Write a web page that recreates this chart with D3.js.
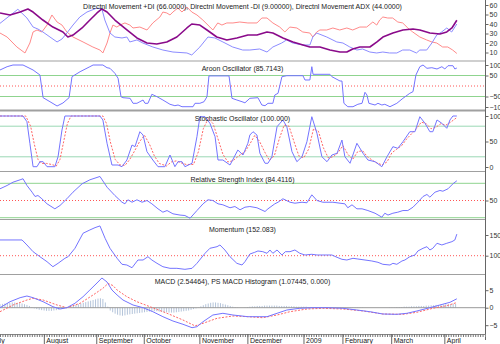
<!DOCTYPE html>
<html><head><meta charset="utf-8">
<script src="https://cdn.jsdelivr.net/npm/d3@7"></script>
<style>body{margin:0;background:#fff}svg{display:block}text{font-family:Arial,"Liberation Sans",sans-serif}</style>
</head><body><svg id="c" width="500" height="344"></svg>
<script>
// ---- data: [trading-day index, value] ----
const monthTicks = [["July",-4],["August",18.1],["September",39.5],["October",58.9],["November",81.6],["December",101.2],["2009",124.1],["February",140],["March",159.9],["April",181.6]];
const dmiPlus = [[0,40.7],[7.3,55.5],[11,46.3],[13.5,36.8],[15.5,34.7],[17.5,31.6],[20.4,26.3],[23.3,21.1],[25.3,24.2],[27.3,30.5],[29.8,38.9],[32.6,47.4],[35.5,52.6],[39.6,56.8],[41.6,55.8],[42.8,44.2],[44.9,30.5],[46.9,26.3],[49.8,25.3],[51.8,26.3],[53,21.1],[55.9,23.2],[58.3,20],[62.4,15.8],[66.5,12.6],[70.6,10.5],[76.3,9.5],[78.3,7.4],[81.6,15.8],[84.9,26.3],[87.7,25.3],[91,21.1],[95,15.8],[99.1,12.6],[102,12.6],[106,13.7],[109,10.5],[111.4,15.8],[115,20],[117,23.2],[119.5,20],[123.6,17.9],[126.5,17.9],[127.7,26.3],[129.3,30.5],[133.4,26.3],[137.5,21.1],[140,20],[142.8,15.8],[145.7,12.6],[148,13.7],[151,10.5],[153.8,9.5],[156.3,10.5],[159,9.5],[162,9.5],[164.4,12.6],[167.3,12.6],[170,9.5],[171.4,12.6],[174.2,12.6],[176.3,20],[178.3,28.4],[180.3,31.6],[182.4,35.8],[184.4,31.6],[186.5,40]];
const dmiMinus = [[0,30.5],[2.9,26.3],[6.9,15.8],[10.2,9.5],[12.2,20],[13.5,31.6],[15.1,33.7],[17.1,31.6],[19.2,38.9],[21.2,49.5],[23.3,42.1],[25.3,38.9],[27.3,31.6],[29.8,26.3],[33.9,21.1],[37.9,15.8],[40.8,12.6],[42,9.5],[43.7,20],[44.9,30.5],[46.1,38.9],[47.7,36.8],[49,38.9],[51,41.1],[53,38.9],[54.3,35.8],[57.1,36.8],[60,33.7],[62.4,41.1],[65.3,47.4],[66.5,52.6],[68.1,51.6],[69.4,49.5],[70.6,52.6],[72.6,56.8],[74.3,52.6],[76.3,57.9],[78.3,52.6],[80.4,49.5],[82.8,44.2],[85.7,36.8],[86.9,33.7],[88.9,41.1],[90.6,38.9],[92.6,41.1],[95.1,41.1],[97.9,42.1],[101.2,41.1],[104.9,41.1],[106.9,46.3],[109,46.3],[111.4,41.1],[114.2,36.8],[116.3,31.6],[118.3,36.8],[121.2,35.8],[123.6,31.6],[126.5,30.5],[127.7,26.3],[129.3,31.6],[130.6,33.7],[133.4,33.7],[135.9,35.8],[138.7,33.7],[141.6,35.8],[144,33.7],[146.9,36.8],[149.7,36.8],[152.2,42.1],[153.8,38.9],[155,44.2],[156.3,47.4],[158.3,46.3],[160.3,46.3],[162.4,42.1],[164.4,41.1],[166.5,35.8],[168.5,31.6],[171.4,26.3],[174.2,23.2],[176.3,21.1],[178.3,20],[180.7,15.8],[182.8,15.8],[184.8,12.6],[186.5,9]];
const dmiAdx = [[0,51.6],[4.1,49.5],[8.2,52.6],[11.4,55.8],[13.5,52.6],[17.5,44.2],[21.6,36.8],[25.7,31.6],[27.7,26.3],[29.8,28.4],[33.5,35.8],[36.7,44.2],[39.6,51.6],[41.6,55.8],[43.7,52.6],[46.9,44.2],[51.8,33.7],[55.9,25.3],[60,20],[64,18.9],[68.1,21.1],[72.2,26.3],[76.3,35.8],[78.3,40],[81.6,38.9],[84.5,33.7],[88.5,26.3],[92.6,23.2],[96.7,25.3],[101.2,28.4],[104.9,28.4],[109,31.6],[111.4,30.5],[115.5,25.3],[119.6,21.1],[123.7,17.9],[126.5,15.8],[130.6,15.8],[134.7,12.6],[138.8,10.5],[141.6,10.5],[144,13.7],[146.9,15.8],[151,15.8],[153.9,21.1],[156.3,26.3],[160.4,30.5],[164.5,33.7],[168.6,34.7],[171.4,33.7],[175.5,30.5],[179.6,29.5],[182.4,31.6],[184.5,35.8],[186.5,44]];
const aroon = [[0,76.2],[2.9,91.9],[5.3,100],[9.4,100],[13.5,76.2],[16.3,52.4],[17.6,-55.7],[20.4,-74.8],[23.3,-95.2],[25.7,-81],[28.2,-55.7],[29.4,44.3],[32.7,68.1],[36.7,91.9],[38,100],[42,100],[43.7,87.1],[44.9,84.3],[46.9,60.5],[48.2,36.7],[49.4,-51],[50.2,-55.7],[53.1,-58.6],[54.3,-82.4],[55.9,-82.4],[57.1,-74.8],[58.4,-66.7],[59.2,-82.4],[60.4,-82.4],[62,-39.5],[64.1,-51],[66.5,-66.7],[69.4,-87.1],[71.4,-93.8],[72.7,-90.5],[74.3,-98.6],[78.8,-98.6],[79.6,-82.4],[81.6,-82.4],[83.3,-74.8],[84.5,-51],[85.3,48],[88.6,48],[93.5,48],[94.7,-58.6],[96.7,-66.7],[98.8,-74.8],[100,-80],[102,-58.6],[105.3,-55.7],[106.9,-90.5],[108.2,-93.8],[109.4,-82.4],[111.4,-82.4],[112.2,-42.9],[113.5,-34.8],[115.1,44.3],[117.1,49],[123.7,49],[124.5,28.6],[126.5,28.6],[127.3,91.9],[127.8,55.7],[134.7,55.7],[135.5,44.3],[138.8,23.8],[139.6,23.8],[140.4,-82.4],[142,-98.6],[144.1,-98.6],[146.1,-87.1],[147.8,-82.4],[149,-30],[149.8,-42.9],[150.6,-82.4],[153.1,-90.5],[154.3,-82.4],[155.9,-90.5],[157.1,-87.1],[159.2,-98.6],[162,-82.4],[164.5,-58.6],[167.3,-34.8],[168.6,-27],[169.8,52.4],[171.4,91.9],[172.7,100],[174.3,84.3],[176.3,87.1],[178.4,81],[180.4,91.9],[181.6,81],[182.9,96.7],[184.9,96.7],[185.7,81],[186.5,85.7]];
const stochK = [[0,100],[9.4,100],[11,88.8],[12.2,46.5],[13.5,0.6],[15.1,0.6],[16.3,10.4],[17.6,10.4],[19.2,0.6],[22.4,0.6],[23.7,20.2],[25.3,72.5],[26.5,100],[40.8,100],[42,92.2],[43.7,46.5],[45.7,3.9],[48.2,3.9],[49.8,0.6],[51.8,13.7],[53.9,43.1],[55.1,39.8],[57.1,69.2],[58.4,62.7],[60,30],[62.4,13.7],[64.5,0.6],[67.3,0.6],[69.4,23.5],[71.4,0.6],[72.7,10.4],[74.3,10.4],[75.5,0.6],[78.4,7.3],[80.4,59.4],[81.6,98.6],[83.7,98.6],[85.7,85.7],[87.8,59.4],[89,13.7],[91,13.7],[93.9,3.9],[97.1,33.3],[99.2,23.5],[101.2,46.5],[102,62.7],[103.3,69.2],[104.9,62.7],[106.1,26.9],[108.2,7.3],[109.4,7.3],[111,20.2],[113.1,79],[114.3,85.7],[115.5,92.2],[117.1,79],[119.2,30],[121.2,10.4],[123.3,20.2],[125.3,49.6],[127.3,98.6],[129.4,66.1],[131.4,20.2],[133.5,10.4],[135.5,23.5],[137.6,26.9],[139.6,52.9],[140.8,20.2],[142.9,7.3],[145.7,46.5],[148.2,26.9],[150.2,13.7],[153.1,10.4],[155.9,0.6],[158,20.2],[160.4,39.8],[162.4,36.7],[164.5,49.6],[167.3,69.2],[169.4,69.2],[171.4,98.6],[173.5,85.7],[175.5,69.2],[176.7,69.2],[178.4,92.2],[180.4,85.7],[182.4,75.9],[183.7,92.2],[184.9,100],[186.5,100]];
const stochD = [[0,100],[10.5,100],[12.5,80],[14,45],[15.5,15],[17,7],[19,7],[21,5],[23,2],[24.5,15],[26,50],[27.5,85],[29,100],[42,100],[43.5,85],[45,50],[47,15],[49,4],[51,3],[53,15],[55,32],[57,50],[59,62],[61,45],[63,22],[65,7],[68,2],[70,10],[72,12],[74,8],[76,5],[79,5],[81,30],[83,75],[85,95],[87,85],[89,55],[91,25],[93,10],[95,12],[97.5,22],[100,30],[102,45],[104,62],[106,50],[108,30],[110,13],[112,22],[114,55],[116,82],[118,80],[120,50],[122,22],[124,18],[126,35],[128,75],[130,70],[132,38],[134,18],[136,20],[138,28],[140,42],[142,25],[144,15],[146,30],[148,32],[150,20],[153,10],[156,4],[158,10],[160,28],[162,35],[164,42],[166,55],[168,65],[170,75],[172,88],[174,85],[176,75],[178,78],[180,85],[182,82],[184,88],[186.5,97]];
const rsi = [[0,70.4],[2.9,76.2],[5.3,81.9],[8.2,86.1],[9.4,87.9],[11,76.2],[13.1,64.5],[14.3,57],[15.5,58.7],[17.1,53],[19.2,44.2],[22.4,35.5],[24.5,41.3],[27.3,53],[29.8,64.5],[33.5,79.1],[36.7,86.1],[40.8,91.9],[43.7,73.2],[46.9,58.7],[49.8,47],[51,44.2],[52.2,51.2],[53.9,47],[55.9,51.2],[58,47],[60,50],[62,44.2],[64.5,35.5],[66.5,29.6],[68.2,32.5],[70.6,26.8],[73.5,24.6],[75.5,23.8],[77.6,19.1],[80.4,32.5],[82.9,44.2],[84.9,51.2],[86.9,50],[89,44.2],[91,42.5],[93.9,37.3],[95.9,39.5],[98,33.8],[100,38.3],[102,39.5],[104.9,37.3],[108.2,30.8],[109.4,35.5],[112.2,44.2],[113.5,47],[115.5,53],[118.4,47],[120.4,45.3],[123.3,47],[125.3,46],[127.3,59.9],[129.4,50],[131.8,47],[135.9,47],[138.8,45.3],[140.8,44.2],[142,37.3],[143.7,42.5],[145.7,35.5],[147.8,35.5],[150.2,32.5],[153.1,27.8],[155.9,20.9],[157.1,27.8],[158.4,24.6],[160.4,27.8],[162.4,29.6],[164.5,32.5],[166.5,32.5],[168.6,38.3],[170.6,47],[172.7,57],[174.3,60.5],[175.5,55.8],[177.6,64.5],[179.6,67.5],[180.8,66.2],[182.9,70.4],[184.9,79.1],[186.5,84.4]];
const momentum = [[0,138],[9,138],[11,125.9],[13.5,109.7],[16.3,97.6],[19.2,85.5],[21.6,73.4],[23.7,81.6],[26.5,93.7],[27.8,97.6],[30.6,117.9],[33.9,154.2],[36.7,162.2],[38.8,167.8],[40.8,171.9],[42.9,142.1],[44.9,117.9],[47.8,93.7],[49.8,79.2],[51.8,77.5],[53.9,70.9],[56.3,89.6],[58.4,89.6],[60.4,97.6],[62,89.6],[64.1,81.6],[66.5,73.4],[69.4,69.5],[72.2,69.5],[75.5,67.1],[78.4,69.5],[80.4,81.6],[83.7,105.8],[85.7,117.9],[88.6,121.8],[89.8,125.9],[91.8,113.8],[93.9,97.6],[96.7,81.6],[98.8,77.5],[100,85.5],[102,104],[104,108.2],[105.3,111.4],[107.3,109.7],[109,105.8],[110.2,113.8],[111.4,105.8],[113.1,113.8],[115.1,101.7],[116.5,109.7],[118.4,109.7],[120.4,113.8],[122.4,105.8],[124.5,101.7],[127.3,103.4],[129.4,101.7],[132.7,101.7],[135.5,101.7],[137.6,96.1],[139.6,91.3],[141.6,89.6],[144.1,93.7],[146.1,92],[149,89.6],[151.8,87.2],[154.3,84],[156.3,79.2],[159.2,77.5],[160.4,81.6],[162,79.2],[164.1,87.2],[165.3,89.6],[167.3,97.6],[169.4,101.7],[170.6,111.4],[172.7,117.9],[174.3,121.8],[175.5,113.8],[176.7,117.9],[178.4,130],[180.4,125.9],[182.4,130],[184.5,133.9],[185.7,138],[186.5,152.1]];
const macd = [[0,0],[4.1,1.71],[8.2,2.86],[11,3.34],[13.5,2.86],[17.6,1.71],[21.6,0.29],[24.5,-0.37],[27.3,0],[30.6,1.26],[33.9,3.14],[36.7,5.06],[39.6,7.06],[41.6,8.49],[43.7,7.34],[45.7,5.06],[47.8,3.63],[50.2,2.2],[54.3,0.77],[58.4,0],[62.4,-1.14],[66.5,-2.57],[70.6,-3.8],[74.7,-4.74],[78.4,-5.71],[80.4,-5.43],[82.9,-4],[86.9,-2.09],[91,-1.6],[95.1,-2.09],[101.2,-2.57],[106.1,-2.57],[109,-2.57],[113.1,-1.6],[117.1,-0.66],[122.4,-0.17],[127.8,0],[133.5,0],[140,-0.17],[145.7,-0.66],[151,-1.14],[156.3,-1.8],[162,-1.89],[166.1,-1.6],[170.2,-0.94],[175.5,0],[179.6,0.77],[183.7,1.54],[186.5,2.54]];
const macdSignal = [[0,-1.14],[5.3,0.77],[11,2.2],[13.5,2.69],[17.6,2.2],[23.3,0.77],[27.3,0],[32.7,1.26],[38,3.63],[42,5.54],[44.1,6.91],[46.1,6.34],[47.8,5.06],[51.8,3.14],[55.9,1.71],[61.2,0.29],[68.2,-1.6],[74.7,-3.51],[79.6,-5.2],[82.9,-4.46],[88.6,-3.03],[95.1,-2.37],[101.2,-2.57],[107.3,-2.86],[113.1,-2.09],[118.4,-1.14],[125.3,-0.37],[131.8,-0.17],[140,-0.37],[148.2,-0.94],[156.3,-1.8],[164.5,-1.89],[170.2,-1.31],[176.7,-0.17],[182.4,0.57],[186.5,1.47]];
const macdHist = [1.0,1.1,1.2,1.3,1.4,1.5, 1.5,1.4,1.3,1.2,1.0, 0.8,0.5,0.2, -0.2,-0.4,-0.6,-0.7,-0.8,-0.9,-0.9,-0.9,-0.8, -0.7,-0.6,-0.4,-0.2,0, 0.2,0.4,0.6,0.8,1.0,1.2, 1.4,1.6,1.8,2.0,2.2,2.4,2.6,2.7,2.5, 1.5,0.3, -0.8,-1.3,-1.7,-2.0,-2.2,-2.3,-2.2,-2.0,-1.9,-1.8,-1.7,-1.6, -1.5,-1.4,-1.3,-1.2,-1.1,-1.1,-1.0,-1.0,-1.1,-1.2,-1.3,-1.3,-1.4,-1.4,-1.4,-1.3,-1.2,-1.1,-1.0,-0.9,-0.8,-0.6,-0.4,-0.2, 0.1,0.4,0.7,1.0,1.2,1.4,1.5,1.5,1.4,1.3,1.1,0.9,0.7,0.5,0.3, 0.2,0.1,0,0,0.1,0.2,0.3, 0.4,0.4,0.5,0.5,0.5,0.6,0.6,0.6,0.6,0.6,0.6,0.5,0.5,0.5,0.5,0.4,0.4,0.4,0.3,0.3,0.3,0.3,0.3, 0.2,0.2,0.2,0.2,0.2,0.2,0.2,0.2,0.2,0.2,0.1,0.1,0.1,0.1,0.1,0.1,0.1,0.1,0.1,0.1,0.1,0.1,0.1,0,0,0,0,0,0,0, 0,0,0,0.1,0.1,0.1,0.2,0.2,0.2,0.3,0.3, 0.3,0.4,0.4,0.4,0.5,0.5,0.5,0.6,0.6,0.7,0.7,0.8,0.8,0.9,0.9,1.0,1.0,1.0,1.1,1.1];
const titles = ["Directnl Movement +DI (66.0000), Directnl Movement -DI (9.00000), Directnl Movement ADX (44.0000)","Aroon Oscillator (85.7143)","Stochastic Oscillator (100.000)","Relative Strength Index (84.4116)","Momentum (152.083)","MACD (2.54464), PS MACD Histogram (1.07445, 0.000)"];
const dmiTicks = [10,20,30,40,50,60];
const aroonTicks = [100,50,-50,-100];
const stochTicks = [0,50,100];
const rsiTicks = [50];
const momTicks = [100,150];
const macdTicks = [-5,0,5];

// ---- layout ----
const W = 485;
const svg = d3.select("#c");
const x = d3.scaleLinear().domain([0,198]).range([0,W]);
const panels = [
  {top:0, bot:61, y:d3.scaleLinear().domain([0,60]).range([62,5]), ticks:dmiTicks, ty:6},
  {top:61, bot:110, y:d3.scaleLinear().domain([-100,100]).range([107,65]), ticks:aroonTicks, ty:68},
  {top:111, bot:171, y:d3.scaleLinear().domain([0,100]).range([167,116]), ticks:stochTicks, ty:118},
  {top:172, bot:219, y:d3.scaleLinear().domain([20,80]).range([217.7,183.3]), ticks:rsiTicks, ty:179},
  {top:220, bot:274, y:d3.scaleLinear().domain([100,150]).range([255.7,235]), ticks:momTicks, ty:229},
  {top:275, bot:334, y:d3.scaleLinear().domain([-5,5]).range([325.2,290.2]), ticks:macdTicks, ty:281}
];
const defs = svg.append("defs");
panels.forEach((p,i)=>{
  defs.append("clipPath").attr("id","cp"+i).append("rect").attr("x",0).attr("y",p.top).attr("width",W).attr("height",p.bot-p.top);
});
const line = (y)=>d3.line().x(d=>x(d[0])).y(d=>y(d[1]));
function hline(g,p,v,color,dash,w){
  g.append("line").attr("x1",0).attr("x2",W).attr("y1",p.y(v)).attr("y2",p.y(v))
   .attr("stroke",color).attr("stroke-width",w||1).attr("stroke-dasharray",dash||null);
}
function path(g,p,data,color,w,dash){
  g.append("path").datum(data).attr("d",line(p.y)).attr("fill","none").attr("stroke",color)
   .attr("stroke-width",w||1).attr("stroke-dasharray",dash||null).attr("stroke-linejoin","round");
}
const BLUE="#7474ff", GREEN="#8fd48f", REDDOT="#ff5555";
const gs = panels.map((p,i)=>svg.append("g").attr("clip-path",`url(#cp${i})`));

// Panel 0 DMI
path(gs[0],panels[0],dmiMinus,"#ff8a8a",1);
path(gs[0],panels[0],dmiPlus,"#8c8cff",1);
path(gs[0],panels[0],dmiAdx,"#8a0a8a",1.6);
// Panel 1 Aroon
hline(gs[1],panels[1],50,GREEN); hline(gs[1],panels[1],-50,GREEN);
hline(gs[1],panels[1],0,REDDOT,"1,2");
path(gs[1],panels[1],aroon,BLUE,1);
// Panel 2 Stoch
hline(gs[2],panels[2],80,"#9ad8b4"); hline(gs[2],panels[2],20,"#9ad8b4");
path(gs[2],panels[2],stochD,"#ff6666",1,"2,1.5");
path(gs[2],panels[2],stochK,BLUE,1);
// Panel 3 RSI
hline(gs[3],panels[3],80,GREEN); hline(gs[3],panels[3],20,GREEN);
hline(gs[3],panels[3],50,REDDOT,"1,2");
path(gs[3],panels[3],rsi,BLUE,1);
// Panel 4 Momentum
hline(gs[4],panels[4],100,REDDOT,"1,2");
path(gs[4],panels[4],momentum,BLUE,1);
// Panel 5 MACD
gs[5].selectAll("rect.h").data(macdHist).join("rect").attr("class","h")
  .attr("x",(d,i)=>x(i)-0.5).attr("width",1)
  .attr("y",d=>Math.min(panels[5].y(d),panels[5].y(0)))
  .attr("height",d=>Math.abs(panels[5].y(d)-panels[5].y(0)))
  .attr("fill","#b4c4da");
hline(gs[5],panels[5],0,"#999",null,1);
path(gs[5],panels[5],macdSignal,"#ff6666",1,"2,1.5");
path(gs[5],panels[5],macd,BLUE,1);

// separators
[61,110.5,171.5,219.5,274.5].forEach((yy,i)=>{
  svg.append("line").attr("x1",0).attr("x2",W).attr("y1",yy).attr("y2",yy)
    .attr("stroke","#a0a0a0").attr("stroke-width",i===1?2:1.2);
});
// titles
panels.forEach((p,i)=>{
  svg.append("text").attr("x",W/2).attr("y",p.ty+2.5).attr("text-anchor","middle")
    .attr("font-size","7px").attr("fill","#1a1a1a").text(titles[i]);
});
// right axes
svg.append("line").attr("x1",W+0.5).attr("x2",W+0.5).attr("y1",0).attr("y2",340).attr("stroke","#666");
panels.forEach((p)=>{
  const ax = svg.append("g").attr("transform",`translate(${W+0.5},0)`)
    .call(d3.axisRight(p.y).tickValues(p.ticks).tickSize(3).tickPadding(1).tickFormat(d3.format("d")));
  ax.select(".domain").remove();
  ax.selectAll("line").attr("stroke","#666");
  ax.selectAll("text").attr("font-size","7px").attr("fill","#333").attr("font-family","Arial");
});
// bottom axis
const bx = svg.append("g").attr("transform","translate(0,334)")
  .call(d3.axisBottom(x).tickValues(d3.range(0,198)).tickSize(3).tickFormat(""));
bx.select(".domain").attr("stroke","#888");
bx.selectAll("line").attr("stroke","#777");
const mt = svg.append("g").selectAll("g").data(monthTicks).join("g")
  .attr("transform",d=>`translate(${x(d[1])},334)`);
mt.append("line").attr("y1",0).attr("y2",10).attr("stroke","#666");
mt.append("text").attr("x",2).attr("y",9).attr("font-size","7px").attr("fill","#1a1a1a").text(d=>d[0]);
</script></body></html>
